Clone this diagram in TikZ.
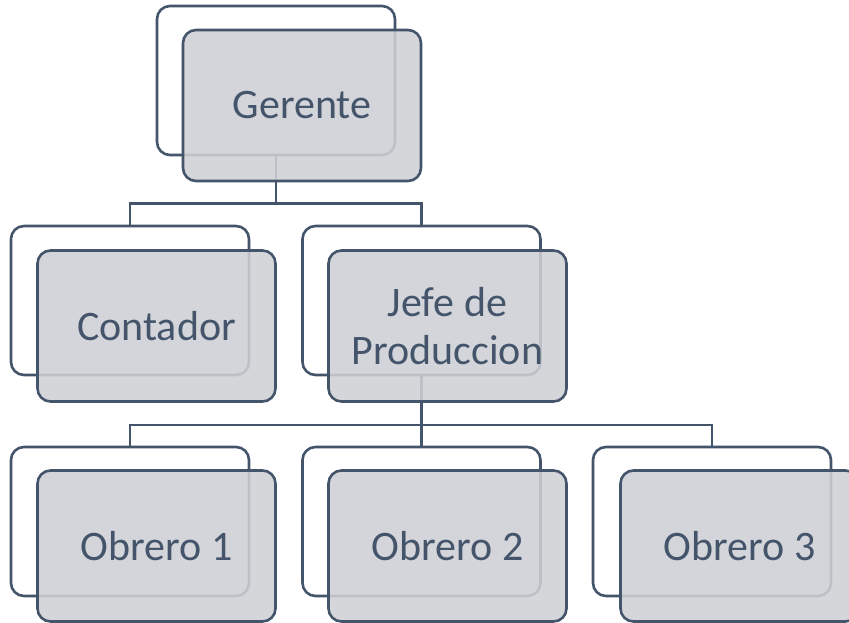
\documentclass[tikz,border=0pt]{standalone}
\usepackage{fontspec}
\setmainfont{Carlito}
\definecolor{slate}{RGB}{68,84,106}
\definecolor{boxfill}{RGB}{206,208,213}
\begin{document}
\begin{tikzpicture}[x=1pt,y=-1pt,
  conn/.style={draw=slate,line width=2.6pt},
  backbox/.style={draw=slate,line width=2.6pt,fill=white,rounded corners=13pt,
    minimum width=238pt,minimum height=149pt,inner sep=0pt},
  frontbox/.style={draw=slate,line width=2.6pt,fill=boxfill,fill opacity=0.88,text opacity=1,
    rounded corners=13pt,minimum width=238pt,minimum height=151pt,inner sep=0pt,
    text=slate,align=center,font=\fontsize{42}{48}\selectfont}]
\useasboundingbox (0,0) rectangle (849,622);
% back boxes
\node[backbox] (gb) at (276,80.5) {};
\node[backbox] (cb) at (130,300.5) {};
\node[backbox] (jb) at (421.5,300.5) {};
\node[backbox] (ob1) at (130,521.5) {};
\node[backbox] (ob2) at (421.5,521.5) {};
\node[backbox] (ob3) at (712,521.5) {};
% connectors
\draw[conn] (gb.south) -- ++(0,47) coordinate (g1);
\draw[conn] (g1) -| (cb.north);
\draw[conn] (g1) -| (jb.north);
\draw[conn] (jb.south) -- ++(0,48.5) coordinate (j1);
\draw[conn] (j1) -| (ob1.north);
\draw[conn] (j1) -- (ob2.north);
\draw[conn] (j1) -| (ob3.north);
% front boxes
\node[frontbox] (gf) at (302,105.5) {Gerente};
\node[frontbox] (cf) at (156.5,326) {Contador};
\node[frontbox] (jf) at (447.5,326) {Jefe de\\Produccion};
\node[frontbox] (of1) at (156.5,546) {Obrero 1};
\node[frontbox] (of2) at (447.5,546) {Obrero 2};
\node[frontbox] (of3) at (739.5,546) {Obrero 3};
\end{tikzpicture}
\end{document}
